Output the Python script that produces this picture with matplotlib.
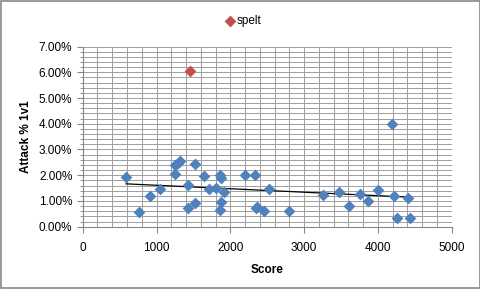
import numpy as np
import matplotlib
matplotlib.use("Agg")
import matplotlib.pyplot as plt
from matplotlib.patches import Rectangle
from matplotlib.ticker import MultipleLocator, PercentFormatter

# Data (score, attack % 1v1)
score = [587, 764, 918, 1053, 1250, 1252, 1290, 1325, 1433, 1433, 1515, 1524,
         1650, 1705, 1809, 1854, 1863, 1876, 1876, 1908, 2193, 2334, 2352, 2361,
         2451, 2519, 2790, 3256, 3468, 3609, 3753, 3867, 4003, 4197, 4214, 4260,
         4404, 4431]
attack = [1.92, 0.58, 1.18, 1.45, 2.38, 2.04, 2.47, 2.54, 1.62, 0.72, 0.91, 2.43,
          1.97, 1.47, 1.49, 0.65, 2.01, 1.91, 0.95, 1.34, 1.99, 2.02, 0.74, 0.77,
          0.60, 1.48, 0.60, 1.25, 1.34, 0.81, 1.26, 1.00, 1.42, 3.98, 1.18, 0.34,
          1.10, 0.33]
spelt_score = [1456]
spelt_attack = [6.06]

BLUE = "#4F81BD"
RED = "#C0504D"
FONT = "Liberation Sans"

fig = plt.figure(figsize=(4.81, 2.89), dpi=100)
fig.patches.append(Rectangle((0.002, 0.003), 0.995, 0.994, transform=fig.transFigure,
                             fill=False, edgecolor="#878787", linewidth=1.2))
ax = fig.add_axes([0.172, 0.2156, 0.767, 0.6234])

ax.scatter(score, attack, marker="D", s=36, color=BLUE, zorder=3, linewidths=0)
ax.scatter(spelt_score, spelt_attack, marker="D", s=36, color=RED, zorder=3,
           linewidths=0, label="spelt")

# linear trendline over the blue series
k, b = np.polyfit(score, attack, 1)
xs = np.array([min(score), max(score)])
ax.plot(xs, k * xs + b, color="black", linewidth=0.9, zorder=2)

ax.set_xlim(0, 5000)
ax.set_ylim(0, 7)
ax.xaxis.set_major_locator(MultipleLocator(1000))
ax.xaxis.set_minor_locator(MultipleLocator(200))
ax.yaxis.set_major_locator(MultipleLocator(1))
ax.yaxis.set_minor_locator(MultipleLocator(0.2))
ax.yaxis.set_major_formatter(PercentFormatter(decimals=2))
ax.grid(which="both", color="#9f9f9f", linewidth=0.7)
ax.set_axisbelow(True)

for side in ["top", "right"]:
    ax.spines[side].set_visible(False)
for side in ["left", "bottom"]:
    ax.spines[side].set_color("#868686")
ax.tick_params(which="major", direction="out", length=4, color="#868686",
               labelsize=8.5, labelcolor="black")
ax.tick_params(axis="x", which="minor", length=0)
ax.tick_params(axis="y", which="minor", direction="out", length=2, color="#868686")
ax.tick_params(axis="x", pad=7)
for lab in ax.get_xticklabels() + ax.get_yticklabels():
    lab.set_fontfamily(FONT)

ax.set_xlabel("Score", fontsize=8.5, fontweight="bold", fontfamily=FONT, labelpad=7)
ax.set_ylabel("Attack % 1v1", fontsize=8.5, fontweight="bold", fontfamily=FONT, labelpad=5)

fig.legend(loc="center", bbox_to_anchor=(0.505, 0.928), frameon=False, handletextpad=0.1,
           prop={"family": FONT, "size": 8.5}, handlelength=1)

fig.savefig("out.png", dpi=100)
